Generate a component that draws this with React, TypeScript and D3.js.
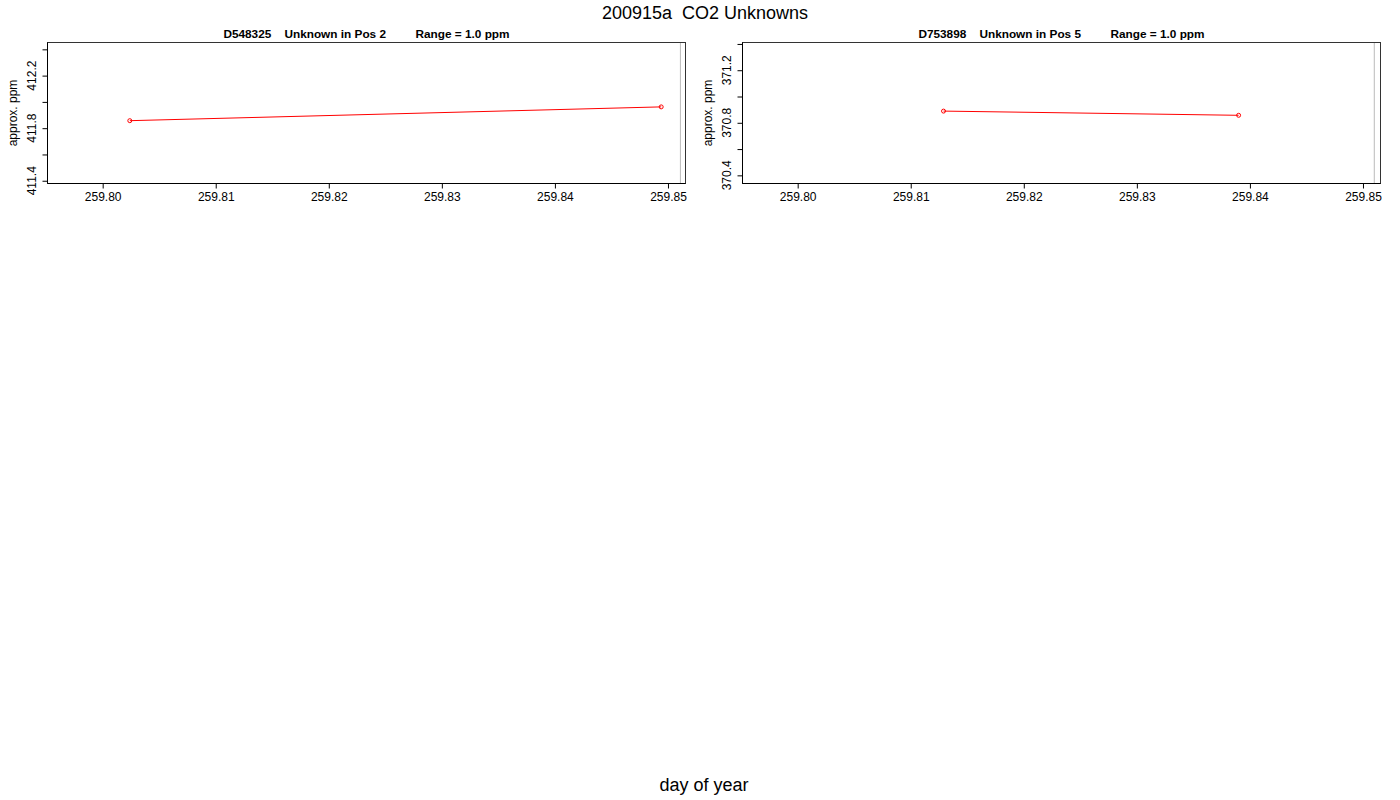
import { useRef, useEffect } from "react";
import * as d3 from "d3";

// Chart text
const mainTitle = "200915a  CO2 Unknowns";
const xAxisTitle = "day of year";
const yAxisTitle = "approx. ppm";

// Panel headers
const panelTitles = [
  "D548325    Unknown in Pos 2         Range = 1.0 ppm",
  "D753898    Unknown in Pos 5         Range = 1.0 ppm",
];

// Shared x limits (day of year) and ticks
const xLimits = [259.79512, 259.85155];
const xTicks = [259.8, 259.81, 259.82, 259.83, 259.84, 259.85];
const refLineDay = [259.8511, 259.851];

// y limits per panel
const yLimitsPos2 = [411.379, 412.452];
const yLimitsPos5 = [370.338, 371.411];

// y ticks per panel (labelled ones are every other tick)
const yTicksPos2 = [411.4, 411.6, 411.8, 412.0, 412.2, 412.4];
const yLabelsPos2 = [411.4, 411.8, 412.2];
const yTicksPos5 = [370.4, 370.6, 370.8, 371.0, 371.2, 371.4];
const yLabelsPos5 = [370.4, 370.8, 371.2];

// series: day of year / approx ppm
const daysPos2 = [259.8024, 259.8494];
const ppmPos2 = [411.857, 411.962];
const daysPos5 = [259.8129, 259.839];
const ppmPos5 = [370.889, 370.857];

const panels = [
  { title: panelTitles[0], yLim: yLimitsPos2, yTicks: yTicksPos2, yLabels: yLabelsPos2, days: daysPos2, ppm: ppmPos2, ref: refLineDay[0] },
  { title: panelTitles[1], yLim: yLimitsPos5, yTicks: yTicksPos5, yLabels: yLabelsPos5, days: daysPos5, ppm: ppmPos5, ref: refLineDay[1] },
];

const FONT = "'Liberation Sans', Arial, Helvetica, sans-serif";

export default function App() {
  const svgRef = useRef<SVGSVGElement>(null);

  useEffect(() => {
    if (!svgRef.current) return;
    const width = 1400;
    const height = 800;
    const svg = d3.select(svgRef.current);
    svg.selectAll("*").remove();
    svg.attr("width", width).attr("height", height).attr("viewBox", `0 0 ${width} ${height}`);

    svg.append("rect").attr("width", width).attr("height", height).attr("fill", "#fff");

    svg
      .append("text")
      .attr("x", 705)
      .attr("y", 19)
      .attr("text-anchor", "middle")
      .style("font-family", FONT)
      .style("font-size", "18px")
      .style("white-space", "pre")
      .text(mainTitle);

    svg
      .append("text")
      .attr("x", 704)
      .attr("y", 791)
      .attr("text-anchor", "middle")
      .style("font-family", FONT)
      .style("font-size", "18px")
      .text(xAxisTitle);

    const boxes = [
      { left: 47.5, right: 685.5 },
      { left: 742.5, right: 1380.5 },
    ];
    const top = 42.5;
    const bottom = 183.5;

    panels.forEach((p, i) => {
      const b = boxes[i];
      const x = d3.scaleLinear().domain(xLimits).range([b.left, b.right]);
      const y = d3.scaleLinear().domain(p.yLim).range([bottom, top]);
      const g = svg.append("g");

      // header
      g.append("text")
        .attr("x", (b.left + b.right) / 2)
        .attr("y", 38)
        .attr("text-anchor", "middle")
        .style("font-family", FONT)
        .style("font-size", "11.8px")
        .style("font-weight", "bold")
        .style("white-space", "pre")
        .text(p.title);

      // reference line
      g.append("line")
        .attr("x1", x(p.ref))
        .attr("x2", x(p.ref))
        .attr("y1", top)
        .attr("y2", bottom)
        .attr("stroke", "#bbb")
        .attr("stroke-width", 1);

      // box
      g.append("rect")
        .attr("x", b.left)
        .attr("y", top)
        .attr("width", b.right - b.left)
        .attr("height", bottom - top)
        .attr("fill", "none")
        .attr("stroke", "#333")
        .attr("stroke-width", 1);

      // x axis
      const xAxis = g
        .append("g")
        .attr("transform", `translate(0,${bottom})`)
        .call(
          d3
            .axisBottom(x)
            .tickValues(xTicks)
            .tickSize(5)
            .tickPadding(4)
            .tickFormat((d) => d3.format(".2f")(d as number))
        );
      xAxis.select(".domain").remove();
      xAxis.selectAll("line").attr("stroke", "#000");
      xAxis.selectAll("text").style("font-family", FONT).style("font-size", "12px").attr("fill", "#000");
      g.append("line")
        .attr("x1", b.left)
        .attr("x2", b.right)
        .attr("y1", bottom)
        .attr("y2", bottom)
        .attr("stroke", "#000");

      // y axis
      const yAxis = g
        .append("g")
        .attr("transform", `translate(${b.left},0)`)
        .call(d3.axisLeft(y).tickValues(p.yTicks).tickSize(5).tickFormat(() => ""));
      yAxis.select(".domain").remove();
      yAxis.selectAll("line").attr("stroke", "#000");
      g.append("line")
        .attr("x1", b.left)
        .attr("x2", b.left)
        .attr("y1", top)
        .attr("y2", bottom)
        .attr("stroke", "#000");

      g.selectAll(".ylab")
        .data(p.yLabels)
        .join("text")
        .attr("class", "ylab")
        .attr("transform", (d) => `translate(${b.left - 11.5},${y(d)}) rotate(-90)`)
        .attr("text-anchor", "middle")
        .style("font-family", FONT)
        .style("font-size", "12px")
        .text((d) => d3.format(".1f")(d));

      g.append("text")
        .attr("transform", `translate(${b.left - 30.5},${(top + bottom) / 2}) rotate(-90)`)
        .attr("text-anchor", "middle")
        .style("font-family", FONT)
        .style("font-size", "12px")
        .text(yAxisTitle);

      // series
      const pts = p.days.map((d, k) => ({ day: d, ppm: p.ppm[k] }));
      const line = d3
        .line<{ day: number; ppm: number }>()
        .x((d) => x(d.day))
        .y((d) => y(d.ppm));
      g.append("path")
        .datum(pts)
        .attr("d", line)
        .attr("fill", "none")
        .attr("stroke", "#ff0000")
        .attr("stroke-width", 1);
      g.selectAll(".pt")
        .data(pts)
        .join("circle")
        .attr("class", "pt")
        .attr("cx", (d) => x(d.day))
        .attr("cy", (d) => y(d.ppm))
        .attr("r", 2)
        .attr("fill", "none")
        .attr("stroke", "#ff0000")
        .attr("stroke-width", 1);
    });
  }, []);

  return (
    <svg
      ref={svgRef}
      style={{ position: "absolute", left: 0, top: 0, display: "block" }}
    />
  );
}
